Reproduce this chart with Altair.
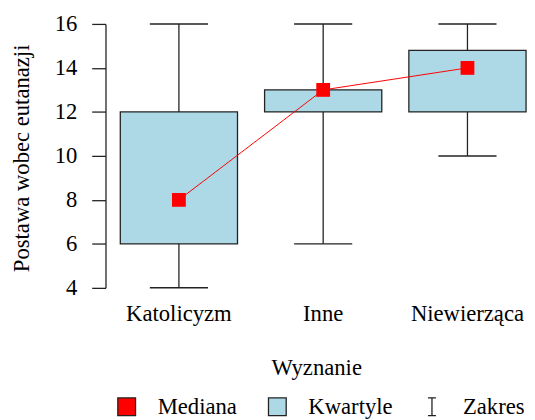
import altair as alt
import pandas as pd

categories = ["Katolicyzm", "Inne", "Niewierząca"]
mins = [4, 6, 10]
q1s = [6, 12, 12]
medians = [8, 13, 14]
q3s = [12, 13, 14.8]
maxs = [16, 16, 16]
y_ticks = [4, 6, 8, 10, 12, 14, 16]

legend_names = ["Mediana", "Kwartyle", "Zakres"]
legend_fills = ["#FF0000", "#ADD8E6", "transparent"]
ibeam = "M-0.45,-1H0.45M0,-1V1M-0.45,1H0.45"
legend_shapes = ["square", "square", ibeam]

FONT = "Liberation Serif, Times New Roman, serif"
FS = 23
INK = "#222222"

df = pd.DataFrame({"cat": categories, "lo": mins, "q1": q1s, "med": medians,
                   "q3": q3s, "hi": maxs})
leg_df = pd.DataFrame({"name": legend_names, "cat": categories, "v": [100, 100, 100]})

x_enc = alt.X("cat:N", sort=categories,
              scale=alt.Scale(paddingInner=0.1877, paddingOuter=0.0546, align=0.94),
              axis=alt.Axis(title="Wyznanie", domain=False, ticks=False, tickSize=0,
                            labelAngle=0, labelFont=FONT, labelFontSize=FS,
                            labelColor="black", labelBaseline="alphabetic",
                            labelPadding=33, titleFont=FONT, titleFontSize=FS,
                            titleFontWeight="normal", titleColor="black",
                            titleBaseline="alphabetic", titleY=88))
y_scale = alt.Scale(domain=[4, 16], nice=False, zero=False)
y_axis = alt.Axis(title="Postawa wobec eutanazji", values=y_ticks, grid=False,
                  tickSize=14, tickWidth=1.3, tickColor=INK, domainColor=INK,
                  domainWidth=1.3, labelFont=FONT, labelFontSize=FS,
                  labelColor="black", labelPadding=15, titleFont=FONT,
                  titleFontSize=FS, titleFontWeight="normal", titleColor="black",
                  titleAngle=270, titleBaseline="middle", titleAlign="center",
                  titleX=-85, titleY=136)

base = alt.Chart(df)

whisk = base.mark_rule(color=INK, strokeWidth=1.3).encode(
    x=x_enc, y=alt.Y("lo:Q", scale=y_scale, axis=y_axis), y2="hi:Q")
cap_lo = base.mark_tick(color=INK, thickness=1.5, size=59, orient="horizontal",
                        opacity=1).encode(
    x=x_enc, y=alt.Y("lo:Q", scale=y_scale))
cap_hi = base.mark_tick(color=INK, thickness=1.5, size=59, orient="horizontal",
                        opacity=1).encode(
    x=x_enc, y=alt.Y("hi:Q", scale=y_scale))
box = base.mark_bar(fill="#ADD8E6", stroke=INK, strokeWidth=1.3).encode(
    x=x_enc, y=alt.Y("q1:Q", scale=y_scale), y2="q3:Q")
line = base.mark_line(color="#FF0000", strokeWidth=1).encode(
    x=x_enc, y=alt.Y("med:Q", scale=y_scale))
pts = base.mark_square(color="#FF0000", size=196, opacity=1, filled=True).encode(
    x=x_enc, y=alt.Y("med:Q", scale=y_scale))

leg = alt.Legend(orient="none", legendX=10, legendY=377, direction="horizontal",
                 title=None, symbolSize=324, labelFont=FONT, labelFontSize=FS,
                 labelColor="black", labelOffset=20, columnPadding=28,
                 symbolStrokeWidth=1.3, symbolOpacity=1, padding=0)
dummy = alt.Chart(leg_df).mark_point(filled=True, strokeWidth=1.3, opacity=1,
                                     clip=True).encode(
    x=x_enc, y=alt.Y("v:Q", scale=y_scale),
    fill=alt.Fill("name:N", scale=alt.Scale(domain=legend_names, range=legend_fills),
                  legend=leg),
    stroke=alt.Stroke("name:N", scale=alt.Scale(domain=legend_names,
                                                range=[INK, INK, INK]),
                      legend=leg),
    shape=alt.Shape("name:N", scale=alt.Scale(domain=legend_names, range=legend_shapes),
                    legend=leg))

chart = alt.layer(whisk, cap_lo, cap_hi, box, line, pts, dummy).properties(
    width=428, height=268,
    autosize=alt.AutoSizeParams(type="none"),
    padding={"left": 99, "top": 13, "right": 0, "bottom": 131},
).configure_view(strokeWidth=0)

chart.save("out.html", embed_options={"renderer": "svg", "actions": False})
